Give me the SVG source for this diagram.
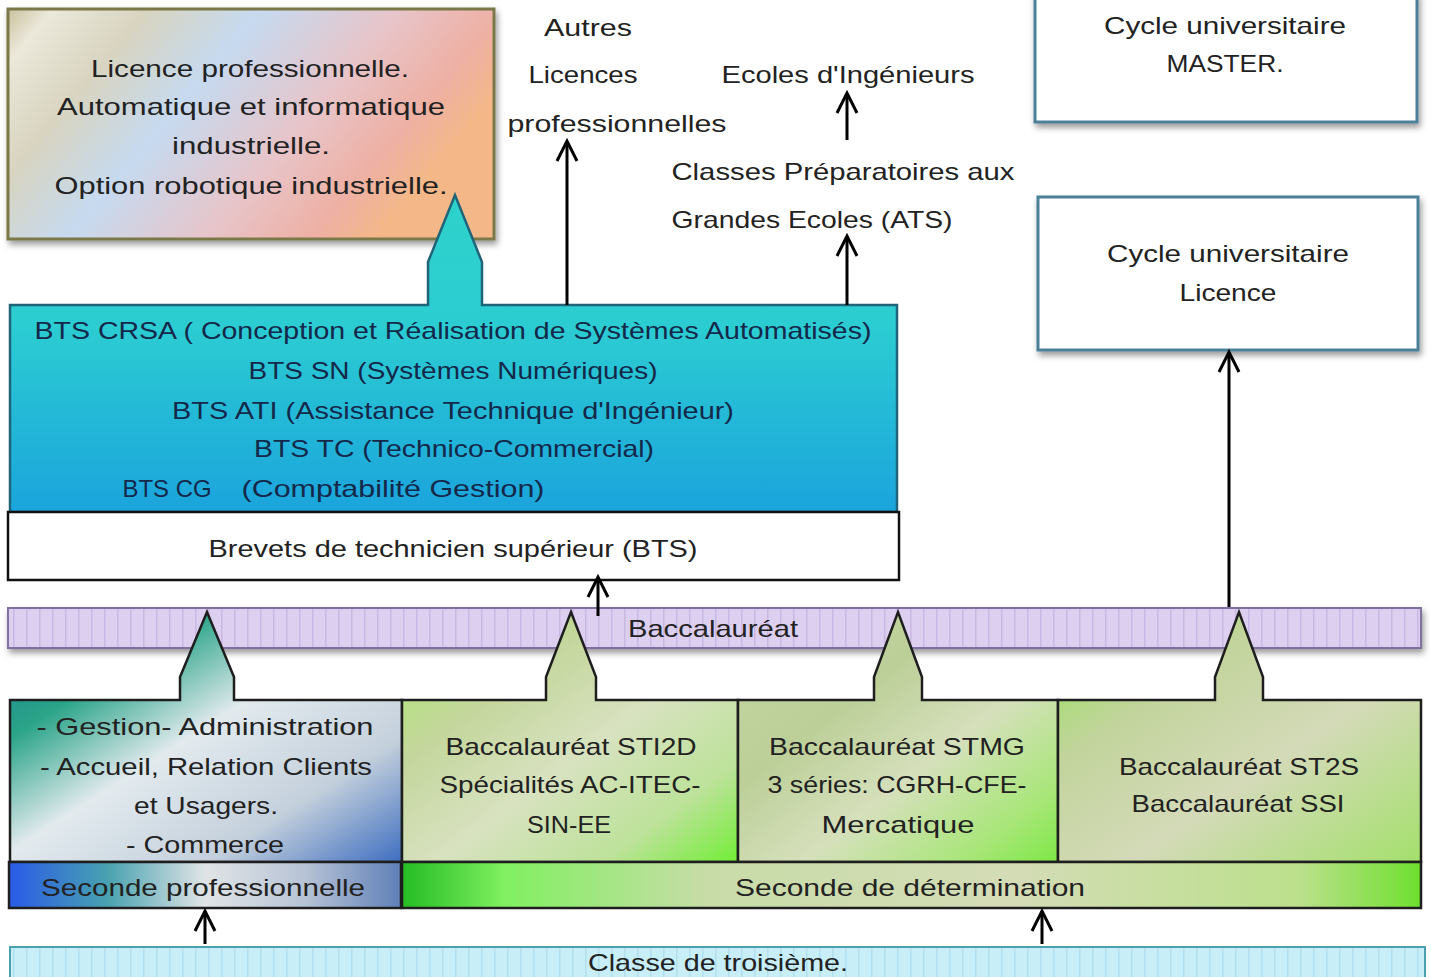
<svg xmlns="http://www.w3.org/2000/svg" width="1431" height="977" viewBox="0 0 1431 977">
<defs>
<style>
.t{font-family:"Liberation Sans",Arial,sans-serif;font-size:24px;fill:#222;text-anchor:middle}
.b{fill:#14284a}
.ln{fill:none;stroke:#000;stroke-width:3;marker-end:url(#ah)}
.box{stroke:#1e1e1e;stroke-width:2.5}
</style>
<marker id="ah" viewBox="-22 -12 26 24" refX="0" refY="0" markerWidth="26" markerHeight="24" orient="auto" markerUnits="userSpaceOnUse">
<path d="M-20,-10 L0,0 L-20,10" fill="none" stroke="#000" stroke-width="3"/>
</marker>
<filter id="sh" x="-5%" y="-10%" width="115%" height="140%">
<feDropShadow dx="2" dy="4" stdDeviation="3" flood-color="#000" flood-opacity="0.4"/>
</filter>
<linearGradient id="gLic" x1="0" y1="0" x2="1" y2="0.4">
<stop offset="0" stop-color="#c9c19c"/><stop offset="0.08" stop-color="#ece8da"/><stop offset="0.25" stop-color="#d8d4c0"/><stop offset="0.45" stop-color="#c6daf0"/><stop offset="0.7" stop-color="#e8c4c8"/><stop offset="0.88" stop-color="#eeb0a4"/><stop offset="1" stop-color="#f4b888"/>
</linearGradient>
<linearGradient id="gBts" x1="0" y1="0" x2="0" y2="1">
<stop offset="0" stop-color="#2ed2ca"/><stop offset="0.4" stop-color="#2ccdd2"/><stop offset="1" stop-color="#1ba4dc"/>
</linearGradient>
<linearGradient id="gGest" x1="0" y1="0" x2="1" y2="1">
<stop offset="0" stop-color="#1a7898"/><stop offset="0.25" stop-color="#2aa488"/><stop offset="0.48" stop-color="#e2eaee"/><stop offset="0.75" stop-color="#c4d0dc"/><stop offset="1" stop-color="#3e6ec0"/>
</linearGradient>
<linearGradient id="gSti" x1="0" y1="0" x2="1" y2="1">
<stop offset="0" stop-color="#a6ee66"/><stop offset="0.3" stop-color="#c4d69c"/><stop offset="0.55" stop-color="#d8e2c0"/><stop offset="0.8" stop-color="#bde29a"/><stop offset="1" stop-color="#72ee36"/>
</linearGradient>
<linearGradient id="gStmg" x1="0" y1="0" x2="1" y2="1">
<stop offset="0" stop-color="#c8d8a4"/><stop offset="0.35" stop-color="#bccf98"/><stop offset="0.6" stop-color="#d6e0bc"/><stop offset="0.85" stop-color="#a8e678"/><stop offset="1" stop-color="#7ee846"/>
</linearGradient>
<linearGradient id="gSt2s" x1="0" y1="0" x2="1" y2="1">
<stop offset="0" stop-color="#8ee650"/><stop offset="0.3" stop-color="#c2d49c"/><stop offset="0.6" stop-color="#d4dab8"/><stop offset="1" stop-color="#a4e06c"/>
</linearGradient>
<linearGradient id="gSecP" x1="0" y1="0" x2="1" y2="0">
<stop offset="0" stop-color="#2a5ae8"/><stop offset="0.25" stop-color="#48a2b0"/><stop offset="0.5" stop-color="#e0e4e6"/><stop offset="0.75" stop-color="#b8c4d6"/><stop offset="1" stop-color="#6080b8"/>
</linearGradient>
<linearGradient id="gSecD" x1="0" y1="0" x2="1" y2="0">
<stop offset="0" stop-color="#24bc24"/><stop offset="0.1" stop-color="#80f060"/><stop offset="0.3" stop-color="#c8dca8"/><stop offset="0.6" stop-color="#d4dcb6"/><stop offset="0.88" stop-color="#bce08c"/><stop offset="1" stop-color="#6ee02e"/>
</linearGradient>
<pattern id="pBac" width="13" height="10" patternUnits="userSpaceOnUse">
<rect width="13" height="10" fill="#dccff0"/><rect x="0" width="1.5" height="10" fill="#c8b8e2"/>
</pattern>
<pattern id="pTro" width="13" height="10" patternUnits="userSpaceOnUse">
<rect width="13" height="10" fill="#c8eef8"/><rect x="0" width="1.5" height="10" fill="#b2dfee"/>
</pattern>
</defs>
<rect width="1431" height="977" fill="#fff"/>

<g id="licence-pro">
<rect x="8" y="9" width="486" height="230" fill="url(#gLic)" stroke="#7a7848" stroke-width="3" filter="url(#sh)"/>
<text class="t" x="250" y="77" textLength="318" lengthAdjust="spacingAndGlyphs">Licence professionnelle.</text>
<text class="t" x="251" y="115" textLength="388" lengthAdjust="spacingAndGlyphs">Automatique et informatique</text>
<text class="t" x="251" y="154" textLength="158" lengthAdjust="spacingAndGlyphs">industrielle.</text>
<text class="t" x="251" y="194" textLength="393" lengthAdjust="spacingAndGlyphs">Option robotique industrielle.</text>
</g>

<g id="autres-licences">
<text class="t" x="588" y="36" textLength="88" lengthAdjust="spacingAndGlyphs">Autres</text>
<text class="t" x="583" y="83" textLength="109" lengthAdjust="spacingAndGlyphs">Licences</text>
<text class="t" x="617" y="132" textLength="219" lengthAdjust="spacingAndGlyphs">professionnelles</text>
</g>

<g id="ecoles-ingenieurs">
<text class="t" x="848" y="83" textLength="253" lengthAdjust="spacingAndGlyphs">Ecoles d'Ingénieurs</text>
</g>

<g id="classes-prepa">
<text class="t" x="843" y="180" textLength="343" lengthAdjust="spacingAndGlyphs">Classes Préparatoires aux</text>
<text class="t" x="812" y="228" textLength="281" lengthAdjust="spacingAndGlyphs">Grandes Ecoles (ATS)</text>
</g>

<g id="master">
<rect x="1035" y="-6" width="382" height="128" fill="#fff" stroke="#4c8098" stroke-width="3" filter="url(#sh)"/>
<text class="t" x="1225" y="34" textLength="242" lengthAdjust="spacingAndGlyphs">Cycle universitaire</text>
<text class="t" x="1225" y="72" textLength="117" lengthAdjust="spacingAndGlyphs">MASTER.</text>
</g>

<g id="licence-univ">
<rect x="1038" y="197" width="380" height="153" fill="#fff" stroke="#4c8098" stroke-width="3" filter="url(#sh)"/>
<text class="t" x="1228" y="262" textLength="242" lengthAdjust="spacingAndGlyphs">Cycle universitaire</text>
<text class="t" x="1228" y="301" textLength="97" lengthAdjust="spacingAndGlyphs">Licence</text>
</g>

<g id="bts">
<path d="M10,305 L428,305 L428,262 L455,195 L482,262 L482,305 L897,305 L897,512 L10,512 Z" fill="url(#gBts)" stroke="#1f6478" stroke-width="2.5"/>
<text class="t b" x="453" y="339" textLength="837" lengthAdjust="spacingAndGlyphs">BTS CRSA ( Conception et Réalisation de Systèmes Automatisés)</text>
<text class="t b" x="453" y="379" textLength="409" lengthAdjust="spacingAndGlyphs">BTS SN (Systèmes Numériques)</text>
<text class="t b" x="453" y="419" textLength="562" lengthAdjust="spacingAndGlyphs">BTS ATI (Assistance Technique d'Ingénieur)</text>
<text class="t b" x="454" y="457" textLength="400" lengthAdjust="spacingAndGlyphs">BTS TC (Technico-Commercial)</text>
<text class="t b" x="167" y="497" textLength="89" lengthAdjust="spacingAndGlyphs">BTS CG</text>
<text class="t b" x="393" y="497" textLength="303" lengthAdjust="spacingAndGlyphs">(Comptabilité Gestion)</text>
</g>

<g id="brevets">
<rect x="8" y="512" width="891" height="68" fill="#fff" stroke="#111" stroke-width="2.5"/>
<text class="t" x="453" y="557" textLength="489" lengthAdjust="spacingAndGlyphs">Brevets de technicien supérieur (BTS)</text>
</g>

<g id="baccalaureat">
<rect x="8" y="608" width="1413" height="40" fill="url(#pBac)" stroke="#8070a0" stroke-width="2" filter="url(#sh)"/>
<text class="t" x="713" y="637" textLength="170" lengthAdjust="spacingAndGlyphs" fill="#333">Baccalauréat</text>
</g>

<g id="bac-pro">
<path d="M10,700 L180,700 L180,677 L207,612 L234,677 L234,700 L402,700 L402,862 L10,862 Z" fill="url(#gGest)" class="box"/>
<text class="t" x="205" y="735" textLength="337" lengthAdjust="spacingAndGlyphs">- Gestion- Administration</text>
<text class="t" x="206" y="775" textLength="332" lengthAdjust="spacingAndGlyphs">- Accueil, Relation Clients</text>
<text class="t" x="206" y="814" textLength="144" lengthAdjust="spacingAndGlyphs">et Usagers.</text>
<text class="t" x="205" y="853" textLength="158" lengthAdjust="spacingAndGlyphs">- Commerce</text>
</g>

<g id="bac-sti2d">
<path d="M402,700 L546,700 L546,677 L571,612 L596,677 L596,700 L738,700 L738,862 L402,862 Z" fill="url(#gSti)" class="box"/>
<text class="t" x="571" y="755" textLength="251" lengthAdjust="spacingAndGlyphs">Baccalauréat STI2D</text>
<text class="t" x="570" y="793" textLength="261" lengthAdjust="spacingAndGlyphs">Spécialités AC-ITEC-</text>
<text class="t" x="569" y="833" textLength="84" lengthAdjust="spacingAndGlyphs">SIN-EE</text>
</g>

<g id="bac-stmg">
<path d="M738,700 L874,700 L874,677 L898,612 L922,677 L922,700 L1058,700 L1058,862 L738,862 Z" fill="url(#gStmg)" class="box"/>
<text class="t" x="897" y="755" textLength="256" lengthAdjust="spacingAndGlyphs">Baccalauréat STMG</text>
<text class="t" x="897" y="793" textLength="259" lengthAdjust="spacingAndGlyphs">3 séries: CGRH-CFE-</text>
<text class="t" x="898" y="833" textLength="153" lengthAdjust="spacingAndGlyphs">Mercatique</text>
</g>

<g id="bac-st2s">
<path d="M1058,700 L1215,700 L1215,677 L1239,612 L1263,677 L1263,700 L1421,700 L1421,862 L1058,862 Z" fill="url(#gSt2s)" class="box"/>
<text class="t" x="1239" y="775" textLength="240" lengthAdjust="spacingAndGlyphs">Baccalauréat ST2S</text>
<text class="t" x="1238" y="812" textLength="213" lengthAdjust="spacingAndGlyphs">Baccalauréat SSI</text>
</g>

<g id="seconde-pro">
<rect x="9" y="862" width="392" height="46" fill="url(#gSecP)" class="box"/>
<text class="t" x="203" y="896" textLength="324" lengthAdjust="spacingAndGlyphs">Seconde professionnelle</text>
</g>

<g id="seconde-det">
<rect x="402" y="862" width="1019" height="46" fill="url(#gSecD)" class="box"/>
<text class="t" x="910" y="896" textLength="350" lengthAdjust="spacingAndGlyphs">Seconde de détermination</text>
</g>

<g id="troisieme">
<rect x="10" y="947" width="1415" height="40" fill="url(#pTro)" stroke="#4aa0b0" stroke-width="2"/>
<text class="t" x="718" y="971" textLength="260" lengthAdjust="spacingAndGlyphs">Classe de troisième.</text>
</g>

<g id="connectors">
<line class="ln" x1="567" y1="305" x2="567" y2="141"/>
<line class="ln" x1="847" y1="305" x2="847" y2="236"/>
<line class="ln" x1="847" y1="140" x2="847" y2="93"/>
<line class="ln" x1="598" y1="616" x2="598" y2="577"/>
<line class="ln" x1="1229" y1="607" x2="1229" y2="352"/>
<line class="ln" x1="205" y1="944" x2="205" y2="911"/>
<line class="ln" x1="1042" y1="944" x2="1042" y2="911"/>
</g>
</svg>
